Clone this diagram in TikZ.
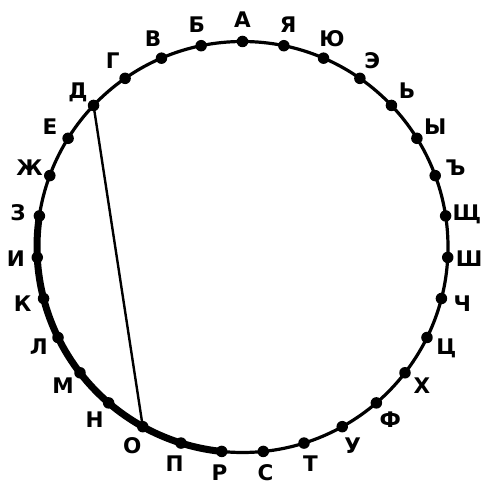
\documentclass[tikz,border=0pt]{standalone}
\usepackage{fontspec}
\setmainfont{DejaVu Sans}
\usetikzlibrary{calc}

\begin{document}
\begin{tikzpicture}[
    x=1pt, y=1pt,
    pt/.style={circle, fill=black, inner sep=0pt, minimum size=11.5pt},
    lbl/.style={font=\fontsize{21.5}{21.5}\selectfont\bfseries, inner sep=0pt, text height=15.6pt, text depth=0pt},
    rim/.style={line width=3.2pt},
    rimthick/.style={line width=7pt},
    chord/.style={line width=2.4pt},
]
\useasboundingbox (0,0) rectangle (483,485);
\coordinate (c) at (242.5,238);

% circle
\draw[rim] (c) circle[radius=205.5];

% thick arc from З to Р
\draw[rimthick] ($(c)+(90+7*360/31:205.5)$) arc[start angle=90+7*360/31, end angle=90+15*360/31, radius=205.5];

% chord Д -- О
\coordinate (d) at ($(c)+(90+4*360/31:205.5)$);
\coordinate (o) at ($(c)+(90+13*360/31:205.5)$);
\draw[chord] (d) -- (o);

% points and letters
\foreach \ltr [count=\i from 0] in {А,Б,В,Г,Д,Е,Ж,З,И,К,Л,М,Н,О,П,Р,С,Т,У,Ф,Х,Ц,Ч,Ш,Щ,Ъ,Ы,Ь,Э,Ю,Я} {
    \node[pt] (p\i) at ($(c)+(90+\i*360/31:205.5)$) {};
    \node[lbl] (l\i) at ($(c)+(90+\i*360/31:227)$) {\ltr};
}

\end{tikzpicture}
\end{document}
